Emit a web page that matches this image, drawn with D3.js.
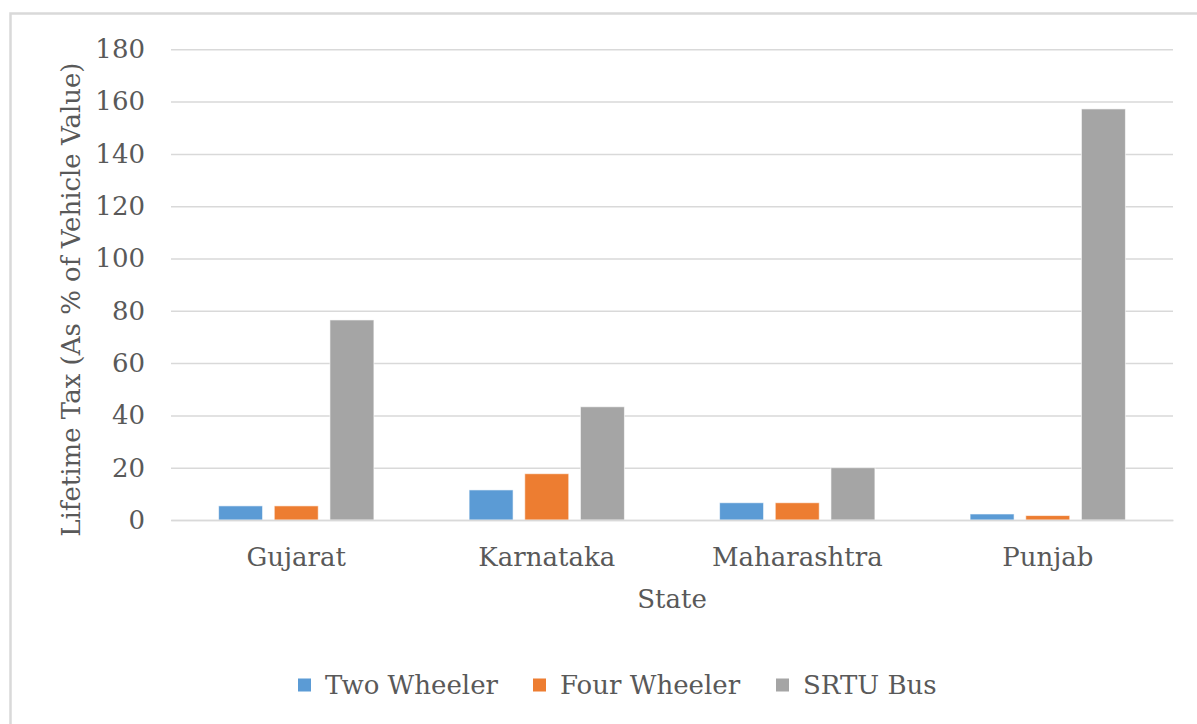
<!DOCTYPE html>
<html><head><meta charset="utf-8">
<script src="https://cdn.jsdelivr.net/npm/d3@7"></script>
<style>
html,body{margin:0;padding:0;background:#fff;}
svg{display:block;}
text{font-family:"DejaVu Serif",Georgia,serif;fill:#595959;}
</style></head>
<body>
<script>
const categories = ["Gujarat","Karnataka","Maharashtra","Punjab"];
const seriesNames = ["Two Wheeler","Four Wheeler","SRTU Bus"];
const twoWheeler = [5.4, 11.5, 6.6, 2.3];
const fourWheeler = [5.4, 17.7, 6.6, 1.7];
const srtuBus = [76.5, 43.3, 20.0, 157.2];
const colors = ["#5B9BD5","#ED7D31","#A5A5A5"];
const yTicks = [0,20,40,60,80,100,120,140,160,180];

(function(){
const series = [twoWheeler, fourWheeler, srtuBus];
const W = 1197, H = 724;
const FS = 26;
const svg = d3.select("body").append("svg").attr("width",W).attr("height",H);

// chart frame
svg.append("rect").attr("x",10.5).attr("y",13.5).attr("width",W+20).attr("height",H+20)
  .attr("fill","none").attr("stroke","#D9D9D9").attr("stroke-width",2.5);

const pl = 171, pr = 1173, pt = 49.3, pb = 520;
const y = d3.scaleLinear().domain([0,180]).range([pb, pt]);
const x0 = d3.scaleBand().domain(categories).range([pl,pr]).paddingInner(0.38).paddingOuter(0.19);
const x1 = d3.scaleBand().domain(seriesNames).range([0,x0.bandwidth()]).paddingInner(0.21);

// gridlines
const yAxis = d3.axisLeft(y).tickValues(yTicks).tickSize(-(pr-pl)).tickFormat(d3.format("d"));
const gy = svg.append("g").attr("transform",`translate(${pl},0)`).call(yAxis);
gy.select(".domain").remove();
gy.selectAll(".tick line").attr("stroke","#D9D9D9").attr("stroke-width",1.5);
gy.selectAll(".tick text").attr("x",-26).attr("font-size",FS).style("fill","#595959")
  .attr("font-family","DejaVu Serif");

// bars
const groups = svg.append("g").selectAll("g").data(categories).join("g")
  .attr("transform",d=>`translate(${x0(d)},0)`);
groups.selectAll("rect").data((c,i)=>series.map((s,k)=>({k, v:s[i]}))).join("rect")
  .attr("x",d=>x1(seriesNames[d.k]))
  .attr("width",x1.bandwidth())
  .attr("y",d=>y(d.v))
  .attr("height",d=>y(0)-y(d.v))
  .attr("fill",d=>colors[d.k])
  .attr("stroke","#fff").attr("stroke-opacity",0.6).attr("stroke-width",1);

// x axis
const xAxis = d3.axisBottom(x0).tickSize(0);
const gx = svg.append("g").attr("transform",`translate(0,${pb})`).call(xAxis);
gx.select(".domain").attr("stroke","#D9D9D9").attr("stroke-width",1.5);
gx.selectAll(".tick text").attr("dy",0).attr("y",46).attr("font-size",FS)
  .attr("font-family","DejaVu Serif").style("fill","#595959");

// axis titles
svg.append("text").attr("x",(pl+pr)/2).attr("y",608).attr("text-anchor","middle")
  .attr("font-size",FS).text("State");
svg.append("text").attr("transform",`translate(80,${(pt+pb)/2+15}) rotate(-90)`)
  .attr("text-anchor","middle").attr("font-size",FS).text("Lifetime Tax (As % of Vehicle Value)");

// legend
const legendX = [298, 533, 776];
const lg = svg.append("g").selectAll("g").data(seriesNames).join("g")
  .attr("transform",(d,i)=>`translate(${legendX[i]},685)`);
lg.append("rect").attr("x",0).attr("y",-6.5).attr("width",13).attr("height",13).attr("fill",(d,i)=>colors[i]);
lg.append("text").attr("x",27).attr("y",9).attr("font-size",FS).text(d=>d);
})();
</script>
</body></html>
